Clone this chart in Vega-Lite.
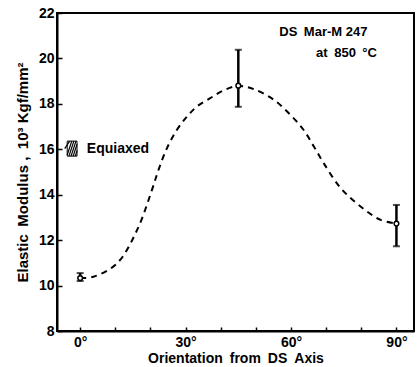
{
  "$schema": "https://vega.github.io/schema/vega-lite/v6.json",
  "width": 357,
  "height": 318,
  "autosize": {"type": "none"},
  "padding": {"left": 57, "top": 13, "right": 6, "bottom": 36},
  "config": {
    "view": {"stroke": "black", "strokeWidth": 2},
    "font": "Liberation Sans",
    "axis": {"grid": false, "domainColor": "black", "domainWidth": 2, "tickColor": "black", "tickWidth": 1.5, "labelColor": "black", "titleColor": "black", "labelFont": "Liberation Sans", "titleFont": "Liberation Sans", "labelFontWeight": "bold", "titleFontWeight": "bold", "labelFontSize": 14, "titleFontSize": 15}
  },
  "datasets": {
    "curve": [
      {"deg": 0, "mod": 10.33}, {"deg": 3.8, "mod": 10.39}, {"deg": 10.5, "mod": 10.98},
      {"deg": 16.2, "mod": 12.45}, {"deg": 20.4, "mod": 14.2}, {"deg": 22.3, "mod": 15.1},
      {"deg": 24.7, "mod": 16.05}, {"deg": 27.5, "mod": 16.85}, {"deg": 30.4, "mod": 17.44},
      {"deg": 33.2, "mod": 17.88}, {"deg": 37.0, "mod": 18.25}, {"deg": 40.8, "mod": 18.59},
      {"deg": 45.0, "mod": 18.79}, {"deg": 49.4, "mod": 18.65}, {"deg": 55.1, "mod": 18.18},
      {"deg": 59.8, "mod": 17.52}, {"deg": 63.6, "mod": 16.85}, {"deg": 66.5, "mod": 16.12},
      {"deg": 69.3, "mod": 15.39}, {"deg": 74.1, "mod": 14.3}, {"deg": 79.8, "mod": 13.48},
      {"deg": 85.5, "mod": 12.89}, {"deg": 90, "mod": 12.73}
    ],
    "points": [
      {"deg": 0, "mod": 10.33, "lo": 10.2, "hi": 10.55},
      {"deg": 45, "mod": 18.8, "lo": 17.87, "hi": 20.38},
      {"deg": 90, "mod": 12.73, "lo": 11.73, "hi": 13.55}
    ],
    "hatch": [
      {"x1": -4.4, "y1": 16.03, "x2": -3.0, "y2": 16.36},
      {"x1": -3.7, "y1": 15.75, "x2": -2.4, "y2": 16.36},
      {"x1": -3.2, "y1": 15.7, "x2": -1.8, "y2": 16.36},
      {"x1": -2.6, "y1": 15.7, "x2": -1.2, "y2": 16.36},
      {"x1": -2.0, "y1": 15.7, "x2": -0.9, "y2": 16.22},
      {"x1": -1.4, "y1": 15.7, "x2": -0.9, "y2": 15.94}
    ],
    "labels": [
      {"deg": 69.2, "mod": 21.17, "text": "DS\u2002Mar-M 247"},
      {"deg": 75.8, "mod": 20.25, "text": "at\u2002850\u2002°C"}
    ]
  },
  "layer": [
    {
      "data": {"name": "curve"},
      "mark": {"type": "line", "color": "black", "strokeWidth": 2, "strokeDash": [6, 5], "interpolate": "catmull-rom"},
      "encoding": {
        "x": {"field": "deg", "type": "quantitative", "scale": {"domain": [-6.6, 95], "nice": false, "zero": false},
          "axis": {"values": [0, 10, 20, 30, 40, 50, 60, 70, 80, 90], "tickCount": 20, "labelExpr": "indexof([0, 30, 60, 90], datum.value) >= 0 ? datum.value + '°' : ''", "labelOverlap": false, "labelBound": false, "labelFlush": false, "tickSize": -4, "labelPadding": 8, "title": "Orientation\u2002from\u2002DS\u2002Axis", "titleFontSize": 14, "titlePadding": 2}},
        "y": {"field": "mod", "type": "quantitative", "scale": {"domain": [8, 22], "nice": false, "zero": false},
          "axis": {"values": [8, 10, 12, 14, 16, 18, 20, 22], "tickCount": 20, "format": "d", "labelOverlap": false, "labelFlush": false, "tickSize": -5, "labelPadding": 8, "title": "Elastic\u2002Modulus ,\u200210³ Kgf/mm²", "titlePadding": 8}}
      }
    },
    {
      "data": {"name": "points"},
      "mark": {"type": "rule", "color": "black", "strokeWidth": 2.5},
      "encoding": {
        "x": {"field": "deg", "type": "quantitative"},
        "y": {"field": "lo", "type": "quantitative"},
        "y2": {"field": "hi"}
      }
    },
    {
      "data": {"name": "points"},
      "mark": {"type": "tick", "orient": "horizontal", "color": "black", "size": 7, "thickness": 2},
      "encoding": {
        "x": {"field": "deg", "type": "quantitative"},
        "y": {"field": "hi", "type": "quantitative"}
      }
    },
    {
      "data": {"name": "points"},
      "mark": {"type": "tick", "orient": "horizontal", "color": "black", "size": 7, "thickness": 2},
      "encoding": {
        "x": {"field": "deg", "type": "quantitative"},
        "y": {"field": "lo", "type": "quantitative"}
      }
    },
    {
      "data": {"name": "points"},
      "mark": {"type": "point", "shape": "circle", "filled": true, "fill": "white", "stroke": "black", "strokeWidth": 1.5, "size": 22, "opacity": 1},
      "encoding": {
        "x": {"field": "deg", "type": "quantitative"},
        "y": {"field": "mod", "type": "quantitative"}
      }
    },
    {
      "data": {"values": [{"x1": -3.7, "x2": -0.9, "y1": 15.7, "y2": 16.36}]},
      "mark": {"type": "rect", "fill": null, "stroke": "black", "strokeWidth": 1},
      "encoding": {
        "x": {"field": "x1", "type": "quantitative"},
        "x2": {"field": "x2"},
        "y": {"field": "y1", "type": "quantitative"},
        "y2": {"field": "y2"}
      }
    },
    {
      "data": {"name": "hatch"},
      "mark": {"type": "rule", "color": "black", "strokeWidth": 1.2},
      "encoding": {
        "x": {"field": "x1", "type": "quantitative"},
        "x2": {"field": "x2"},
        "y": {"field": "y1", "type": "quantitative"},
        "y2": {"field": "y2"}
      }
    },
    {
      "data": {"name": "labels"},
      "mark": {"type": "text", "font": "Liberation Sans", "fontWeight": "bold", "fontSize": 13, "color": "black", "baseline": "middle", "align": "center"},
      "encoding": {
        "x": {"field": "deg", "type": "quantitative"},
        "y": {"field": "mod", "type": "quantitative"},
        "text": {"field": "text"}
      }
    },
    {
      "data": {"values": [{"deg": 1.9, "mod": 16.0, "text": "Equiaxed"}]},
      "mark": {"type": "text", "font": "Liberation Sans", "fontWeight": "bold", "fontSize": 14, "color": "black", "baseline": "middle", "align": "left"},
      "encoding": {
        "x": {"field": "deg", "type": "quantitative"},
        "y": {"field": "mod", "type": "quantitative"},
        "text": {"field": "text"}
      }
    }
  ]
}
